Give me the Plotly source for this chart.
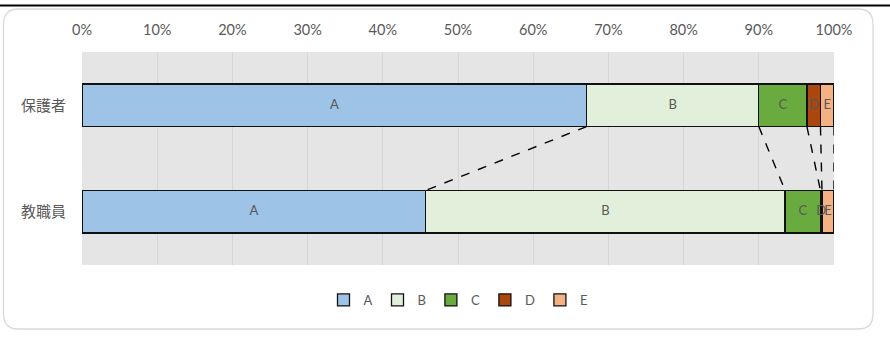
import plotly.graph_objects as go

categories = ['保護者', '教職員']
series_names = ['A', 'B', 'C', 'D', 'E']
A = [67.1, 45.7]
B = [22.9, 47.8]
C = [6.4, 4.7]
D = [1.8, 0.2]
E = [1.8, 1.6]
series_values = [A, B, C, D, E]
colors = ['#9dc3e6', '#e2efda', '#6aab40', '#a9470f', '#f4b183']
x_ticks = list(range(0, 101, 10))

W, H = 890, 337
ML, MR, MT, MB = 82, 56, 52, 72
PW, PH = W - ML - MR, H - MT - MB
bargap = 0.6
half = (1 - bargap) / 2

FONT = "Lato, 'Noto Sans CJK JP', sans-serif"
TXT = '#595959'

fig = go.Figure()
for name, vals, col in zip(series_names, series_values, colors):
    fig.add_trace(go.Bar(
        y=categories, x=vals, name=name, orientation='h',
        marker=dict(color=col, line=dict(color='#111111', width=1.3)),
        hoverinfo='x+name',
    ))

# cumulative boundaries
cum = [[0.0, 0.0]]
for vals in series_values:
    cum.append([cum[-1][0] + vals[0], cum[-1][1] + vals[1]])

# segment labels drawn on top of all bars
lx, ly, lt = [], [], []
for k, name in enumerate(series_names):
    for i, cat in enumerate(categories):
        lx.append((cum[k][i] + cum[k + 1][i]) / 2)
        ly.append(cat)
        lt.append(name)
fig.add_trace(go.Scatter(x=lx, y=ly, text=lt, mode='text', showlegend=False,
                         textfont=dict(color=TXT, size=13, family=FONT),
                         textposition='middle center', hoverinfo='skip'))

# series lines connecting cumulative boundaries
shapes = []
for k in range(1, len(cum)):
    shapes.append(dict(type='line', xref='x', yref='y',
                       x0=cum[k][0], y0=0 + half, x1=cum[k][1], y1=1 - half,
                       line=dict(color='black', width=1.4, dash='dash'), layer='above'))

def px_x(p):
    return (p - ML) / PW

def px_y(p):
    return (MT + PH - p) / PH

# rounded chart border
x0, y0, x1, y1, r = 3.5, 9.0, 873.0, 329.0, 15.0
path = (f"M {px_x(x0 + r)} {px_y(y0)} L {px_x(x1 - r)} {px_y(y0)} "
        f"Q {px_x(x1)} {px_y(y0)} {px_x(x1)} {px_y(y0 + r)} "
        f"L {px_x(x1)} {px_y(y1 - r)} "
        f"Q {px_x(x1)} {px_y(y1)} {px_x(x1 - r)} {px_y(y1)} "
        f"L {px_x(x0 + r)} {px_y(y1)} "
        f"Q {px_x(x0)} {px_y(y1)} {px_x(x0)} {px_y(y1 - r)} "
        f"L {px_x(x0)} {px_y(y0 + r)} "
        f"Q {px_x(x0)} {px_y(y0)} {px_x(x0 + r)} {px_y(y0)} Z")
shapes.append(dict(type='path', xref='paper', yref='paper', path=path,
                   line=dict(color='#d9d9d9', width=1.3), layer='below'))
# top black rule
shapes.append(dict(type='line', xref='paper', yref='paper',
                   x0=px_x(0), x1=px_x(W), y0=px_y(5.5), y1=px_y(5.5),
                   line=dict(color='black', width=2.2)))

fig.update_layout(
    width=W, height=H,
    margin=dict(l=ML, r=MR, t=MT, b=MB, pad=0),
    barmode='stack', bargap=bargap,
    paper_bgcolor='white', plot_bgcolor='#e5e5e5',
    font=dict(family=FONT, color=TXT, size=13),
    shapes=shapes,
    showlegend=True,
    legend=dict(orientation='h', x=0.5, xanchor='center', y=px_y(300), yanchor='middle',
                font=dict(size=13, color=TXT, family=FONT), itemwidth=30,
                traceorder='normal', bgcolor='rgba(0,0,0,0)'),
    xaxis=dict(side='top', range=[0, 100], tickvals=x_ticks,
               ticktext=[f'{t}%' for t in x_ticks], showgrid=True,
               gridcolor='#d6d6d6', gridwidth=1, zeroline=False, showline=False,
               ticks='', ticklabelstandoff=13, tickfont=dict(size=14.5, color=TXT)),
    yaxis=dict(categoryorder='array', categoryarray=categories, autorange=False,
               range=[1.5, -0.5], showgrid=False, zeroline=False, showline=False,
               ticks='', ticklabelstandoff=15, tickfont=dict(size=15, color=TXT)),
)

fig.write_html('out.html')
